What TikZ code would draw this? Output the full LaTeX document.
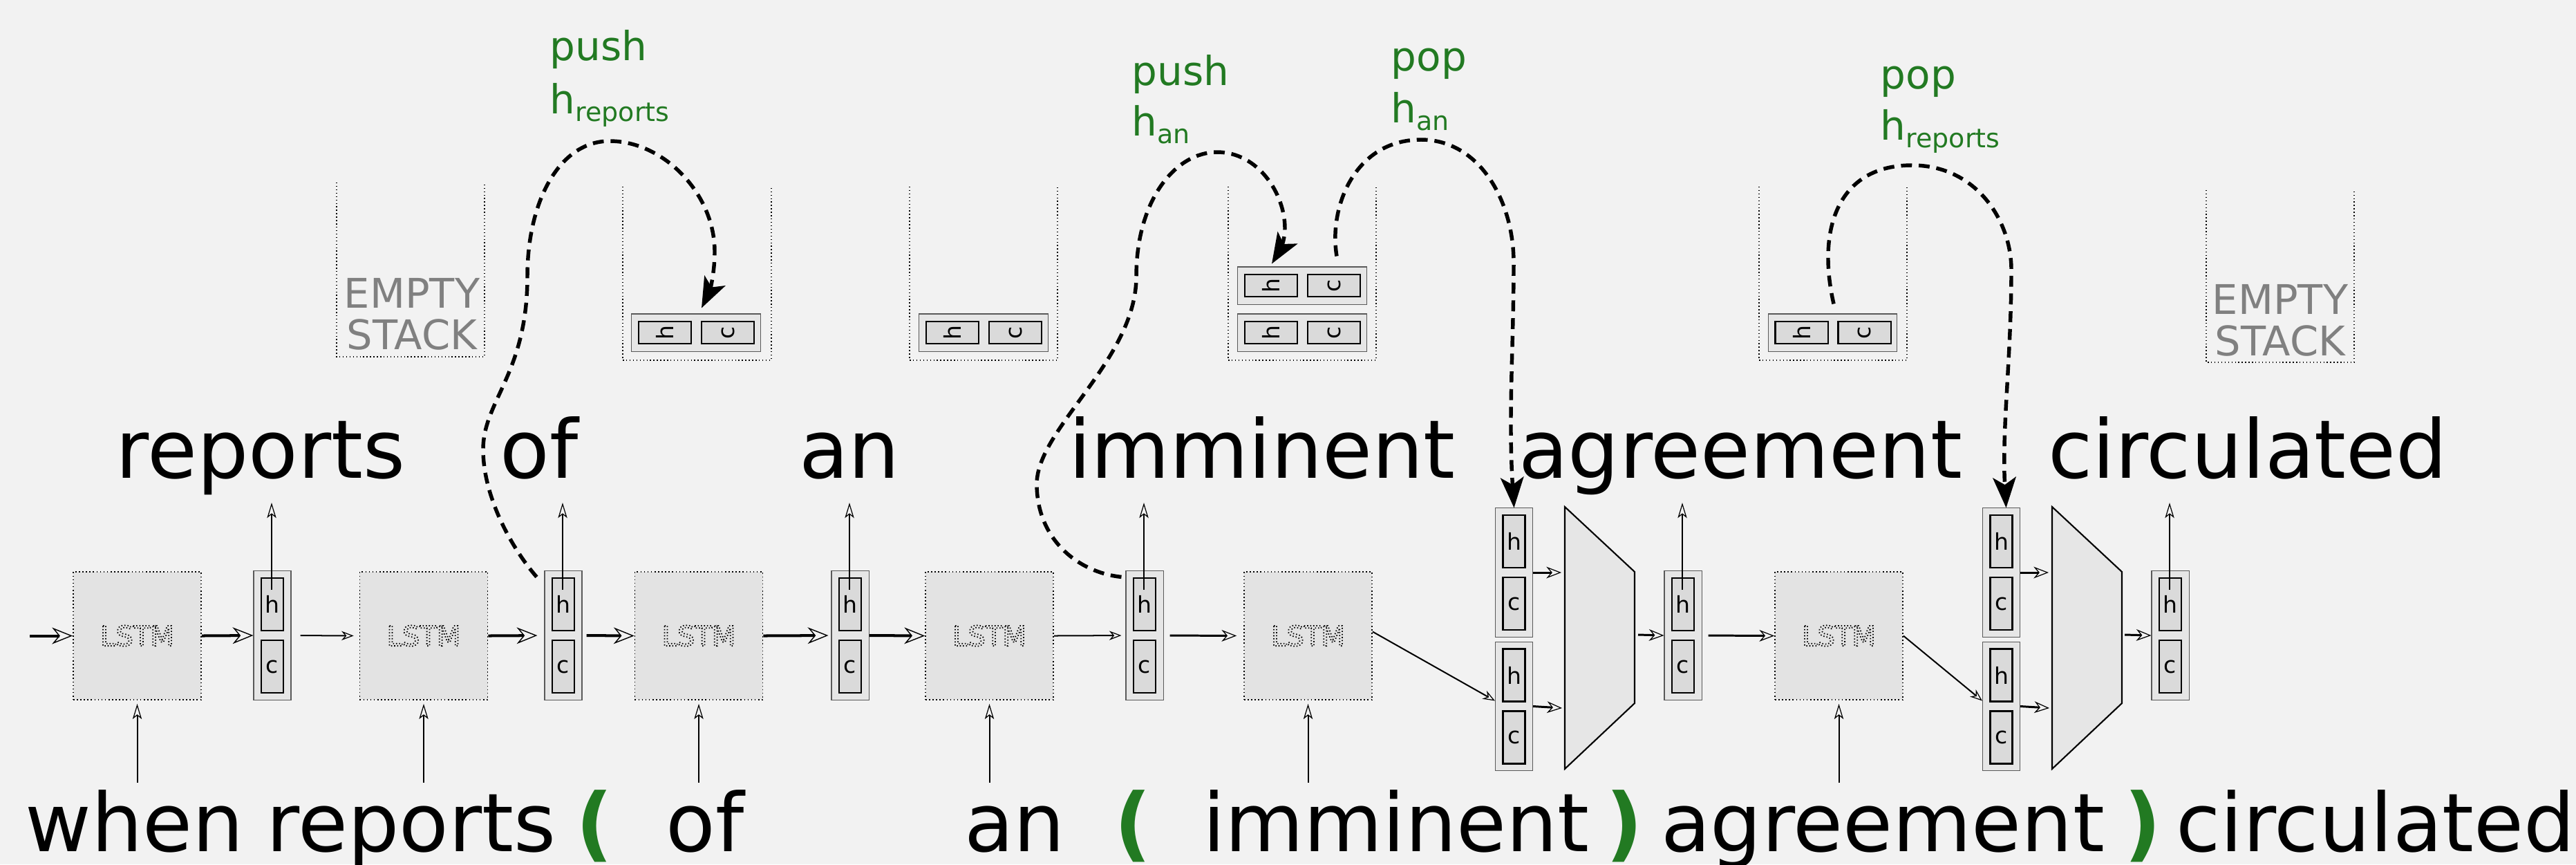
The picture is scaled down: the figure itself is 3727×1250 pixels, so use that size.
\documentclass[tikz,border=0pt]{standalone}
\usepackage{fontspec}
\setmainfont{DejaVu Sans}
\usetikzlibrary{arrows.meta,calc}
\definecolor{cBg}{RGB}{242,242,242}
\definecolor{cLstm}{RGB}{227,227,227}
\definecolor{cHcOut}{RGB}{230,230,230}
\definecolor{cHcIn}{RGB}{218,218,218}
\definecolor{cGrn}{RGB}{34,122,34}
\definecolor{cStk}{RGB}{128,128,128}
\newcommand{\dottxt}[1]{\special{pdf:literal direct 1 Tr 0.5 w [0.45 0.8] 0 d}#1\special{pdf:literal direct 0 Tr [] 0 d}}
\newcommand{\subtxt}[1]{\raisebox{-3.2pt}{\fontsize{10.8}{12}\selectfont #1}}
\newcommand{\hccol}[3]{%
  \node[hcout] (#1) at (#2,#3) {};
  \node[hcin] (#1h) at (#2,#3-45) {h};
  \node[hcin] (#1c) at (#2,#3+45) {c};}
\newcommand{\stkent}[3]{%
  \node[stkout] (#1) at (#2,#3) {};
  \node[hcin, rotate=90] (#1h) at (#2-45,#3) {h};
  \node[hcin, rotate=90] (#1c) at (#2+46,#3) {c};}
\begin{document}
\begin{tikzpicture}[x=0.01cm, y=-0.01cm,
  lstm/.style={draw, densely dotted, line width=0.45pt, fill=cLstm, minimum width=1.85cm, minimum height=1.85cm, inner sep=0pt, font=\fontsize{11.4}{12}\selectfont},
  hcout/.style={draw=black!65, line width=0.3pt, fill=cHcOut, minimum width=0.54cm, minimum height=1.86cm, inner sep=0pt},
  hcin/.style={draw, line width=0.6pt, fill=cHcIn, minimum width=0.32cm, minimum height=0.76cm, inner sep=0pt, font=\fontsize{9.4}{10}\selectfont},
  stkout/.style={hcout, minimum width=1.86cm, minimum height=0.54cm},
  stkline/.style={densely dotted, line width=0.4pt},
  bigword/.style={font=\fontsize{33.3}{40}\selectfont, inner sep=0pt, anchor=base},
  lowword/.style={bigword, text depth=0pt},
  grnlab/.style={font=\fontsize{16.5}{20}\selectfont, text=cGrn, inner sep=0pt, anchor=base west},
  emptylab/.style={font=\fontsize{16.8}{18}\selectfont, text=cStk, inner sep=0pt, anchor=base},
  trap/.style={draw, line width=0.6pt, fill=cHcOut},
  thk/.style={line width=1.14pt, -{Stealth[open, length=8.5pt, width=6.8pt, inset=2.8pt, line width=0.4pt]}},
  thn/.style={line width=0.57pt, -{Stealth[open, length=5pt, width=3.8pt, inset=1.6pt, line width=0.35pt]}},
  medarr/.style={line width=0.85pt, -{Stealth[open, length=6.2pt, width=4.8pt, inset=2pt, line width=0.35pt]}},
  uparr/.style={line width=0.57pt, -{Stealth[open, length=6.3pt, width=3.8pt, inset=1.5pt, line width=0.35pt]}},
  dsh/.style={line width=1.55pt, dash pattern=on 4.5pt off 2.8pt, -{Stealth[length=12.5pt, width=9.5pt, inset=3pt]}}
]
\useasboundingbox (0,0) rectangle (3727,1250);
\fill[cBg] (0,0) rectangle (3727,1250);

% ---------- stacks ----------
\draw[stkline] (487,264) -- (487,516) -- (701,516) -- (701,264);
\draw[stkline] (901,270) -- (901,521) -- (1116,521) -- (1116,270);
\draw[stkline] (1316,270) -- (1316,521) -- (1530,521) -- (1530,270);
\draw[stkline] (1777,270) -- (1777,521) -- (1991,521) -- (1991,270);
\draw[stkline] (2545,270) -- (2545,521) -- (2759,521) -- (2759,270);
\draw[stkline] (3192,275) -- (3192,524) -- (3406,524) -- (3406,275);
\node[emptylab] (es1a) at (596,445) {EMPTY};
\node[emptylab] (es1b) at (596,505) {STACK};
\node[emptylab] (es6a) at (3299,454) {EMPTY};
\node[emptylab] (es6b) at (3299,514) {STACK};
\stkent{e2}{1007}{481}
\stkent{e3}{1423}{481}
\stkent{e4a}{1884}{413}
\stkent{e4b}{1884}{481}
\stkent{e5}{2651.5}{481}

% ---------- green labels ----------
\node[grnlab] (g1a) at (795,87) {push};
\node[grnlab] (g1b) at (795,164) {h\subtxt{reports}};
\node[grnlab] (g2a) at (1637,123) {push};
\node[grnlab] (g2b) at (1637,196) {h\subtxt{an}};
\node[grnlab] (g3a) at (2012,102) {pop};
\node[grnlab] (g3b) at (2012,177) {h\subtxt{an}};
\node[grnlab] (g4a) at (2720,128) {pop};
\node[grnlab] (g4b) at (2720,202) {h\subtxt{reports}};

% ---------- top words ----------
\node[bigword] (w1) at (377,691) {reports};
\node[bigword] (w2) at (780,691) {of};
\node[bigword] (w3) at (1229,691) {an};
\node[bigword] (w4) at (1826,691) {imminent};
\node[bigword] (w5) at (2518,691) {agreement};
\node[bigword] (w6) at (3252,691) {circulated};

% ---------- bottom words ----------
\node[lowword] (b1) at (195,1231) {when};
\node[lowword] (b2) at (595,1231) {reports};
\node[lowword, text=cGrn] (b3) at (860,1231) {\bfseries (};
\node[lowword] (b4) at (1020,1231) {of};
\node[lowword] (b5) at (1468,1231) {an};
\node[lowword, text=cGrn] (b6) at (1639,1231) {\bfseries (};
\node[lowword] (b7) at (2020,1231) {imminent};
\node[lowword, text=cGrn] (b8) at (2350,1231) {\bfseries )};
\node[lowword] (b9) at (2724,1231) {agreement};
\node[lowword, text=cGrn] (b10) at (3100,1231) {\bfseries )};
\node[lowword] (b11) at (3437,1231) {circulated};

% ---------- LSTM cells ----------
\node[lstm] (L1) at (198.5,919.5) {\dottxt{LSTM}};
\node[lstm] (L2) at (613,919.5) {\dottxt{LSTM}};
\node[lstm] (L3) at (1011,919.5) {\dottxt{LSTM}};
\node[lstm] (L4) at (1431.5,919.5) {\dottxt{LSTM}};
\node[lstm] (L5) at (1892.5,919.5) {\dottxt{LSTM}};
\node[lstm] (L6) at (2660.5,919.5) {\dottxt{LSTM}};

% ---------- hc columns ----------
\hccol{hc1}{394}{919}
\hccol{hc2}{815}{919}
\hccol{hc3}{1230}{919}
\hccol{hc4}{1656}{919}
\hccol{hc5}{2435}{919}
\hccol{hc6}{3140}{919}
\hccol{mA1}{2190.5}{828}
\hccol{mB1}{2190.5}{1021.5}
\hccol{mA2}{2895.5}{828}
\hccol{mB2}{2895.5}{1021.5}

% ---------- merge trapezoids ----------
\draw[trap] (2264,733) -- (2365,827) -- (2365,1017) -- (2264,1112) -- cycle;
\draw[trap] (2969,733) -- (3070,827) -- (3070,1017) -- (2969,1112) -- cycle;
\coordinate (t1a) at (2259,828);
\coordinate (t1b) at (2260,1024);
\coordinate (t1o) at (2370,918);
\coordinate (t2a) at (2964,828);
\coordinate (t2b) at (2965,1024);
\coordinate (t2o) at (3074,918);

% ---------- horizontal connectors ----------
\coordinate (in0) at (43,919.5);
\draw[thk] (in0) -- (L1.west);
\draw[thk] (L1.east) -- (hc1.west);
\draw[thn, shorten <=0.13cm, shorten >=0.08cm] (hc1.east) -- (L2.west);
\draw[thk, shorten >=0.1cm] (L2.east) -- (hc2.west);
\draw[thk, shorten <=0.06cm] (hc2.east) -- (L3.west);
\draw[thk, shorten >=0.04cm] (L3.east) -- (hc3.west);
\draw[thk] (hc3.east) -- (L4.west);
\draw[thn, shorten >=0.06cm] (L4.east) -- (hc4.west);
\draw[medarr, shorten <=0.09cm, shorten >=0.1cm] (hc4.east) -- (L5.west);
\draw[thn] ([yshift=0.06cm]L5.east) -- ([yshift=0.08cm]mB1.west);
\draw[medarr] (mA1.east) -- (t1a);
\draw[medarr] (mB1.east) -- (t1b);
\draw[medarr] (t1o) -- (hc5.west);
\draw[medarr, shorten <=0.09cm] (hc5.east) -- (L6.west);
\draw[thn] (L6.east) -- ([yshift=0.08cm]mB2.west);
\draw[medarr] (mA2.east) -- (t2a);
\draw[medarr] (mB2.east) -- (t2b);
\draw[medarr] (t2o) -- (hc6.west);

% ---------- input arrows ----------
\foreach \n in {L1,L2,L3,L4,L5,L6}
  \draw[uparr] ([shift={(0,212.5)}]\n.center) -- ([shift={(0,5)}]\n.south);

% ---------- output arrows ----------
\foreach \n in {hc1,hc2,hc3,hc4,hc5,hc6}
  \draw[uparr] ([shift={(-1,-66)}]\n.center) -- ([shift={(-1,-192)}]\n.center);

% ---------- stack operations ----------
\draw[dsh] ([shift={(-11,9)}]hc2.north west)
  .. controls (742,795) and (699,720) .. (699,650)
  .. controls (699,580) and (763,540) .. (763,400)
  .. controls (763,290) and (810,204) .. (882,204)
  .. controls (960,204) and (1034,280) .. (1034,364)
  .. controls (1034,400) and (1025,425) .. ([shift={(8,-8)}]e2.north);
\draw[dsh] ([shift={(-6,9)}]hc4.north west)
  .. controls (1560,828) and (1500,780) .. (1500,700)
  .. controls (1500,620) and (1644,520) .. (1644,400)
  .. controls (1644,290) and (1700,220) .. (1761,220)
  .. controls (1820,220) and (1859,280) .. (1859,330)
  .. controls (1859,350) and (1850,365) .. ([shift={(-44,-4)}]e4a.north);
\draw[dsh] ([shift={(50,-15)}]e4a.north)
  .. controls (1922,300) and (1960,202) .. (2056,202)
  .. controls (2140,202) and (2190,290) .. (2190,380)
  .. controls (2190,500) and (2182,600) .. (mA1.north);
\draw[dsh] ([shift={(1.5,-14)}]e5.north)
  .. controls (2628,330) and (2660,239) .. (2766,239)
  .. controls (2860,239) and (2910,320) .. (2910,390)
  .. controls (2910,520) and (2896,620) .. ([shift={(7,0)}]mA2.north);
\end{tikzpicture}
\end{document}
